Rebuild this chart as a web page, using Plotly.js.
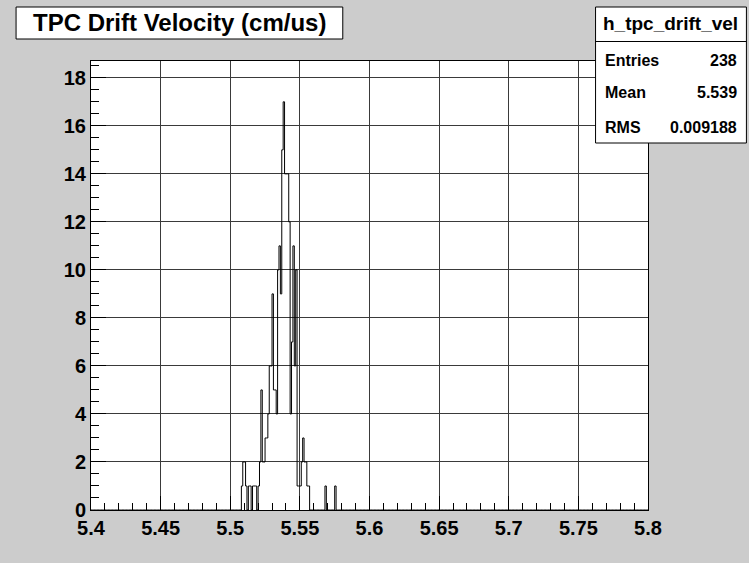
<!DOCTYPE html>
<html>
<head>
<meta charset="utf-8">
<script src="https://cdn.plot.ly/plotly-3.0.1.min.js"></script>
<style>
  html, body { margin: 0; padding: 0; background: #cccccc; }
  #chart { width: 749px; height: 563px; }
</style>
</head>
<body>
<div id="chart"></div>
<script>
// ---- data ----
const histName = "h_tpc_drift_vel";
const chartTitle = "TPC Drift Velocity (cm/us)";
const axisMin = 5.4;
const axisMax = 5.8;
const binWidth = 0.001;
const firstFilledBin = 5.508;
const binCounts = [
  1, 2, 2, 1, 0, 1, 1, 0, 1, 1, 1, 0, 1, 2, 5, 2, 2, 3, 3, 4,
  6, 6, 9, 5, 5, 4, 10, 11, 9, 15, 17, 14, 14, 14, 12, 4, 7, 11, 6, 10,
  1, 1, 1, 2, 3, 2, 2, 1, 1,
  0, 0, 0, 0, 0, 0, 0, 0, 0, 0, 0,
  1,
  0, 0, 0, 0, 0, 0,
  1
];
const statLabels = ["Entries", "Mean", "RMS"];
const statValues = ["238", "5.539", "0.009188"];
const xTickVals = [5.4, 5.45, 5.5, 5.55, 5.6, 5.65, 5.7, 5.75, 5.8];
const xTickText = ["5.4", "5.45", "5.5", "5.55", "5.6", "5.65", "5.7", "5.75", "5.8"];
const yTickVals = [0, 2, 4, 6, 8, 10, 12, 14, 16, 18];
const yTickText = ["0", "2", "4", "6", "8", "10", "12", "14", "16", "18"];
const yMax = 18.7;

// ---- build the step outline over the full axis range ----
const nBins = Math.round((axisMax - axisMin) / binWidth);
const edges = [];
const heights = [];
for (let i = 0; i <= nBins; i++) {
  const lo = axisMin + i * binWidth;
  edges.push(lo);
  const k = Math.round((lo - firstFilledBin) / binWidth);
  const v = (i < nBins && k >= 0 && k < binCounts.length) ? binCounts[k] : 0;
  heights.push(i < nBins ? v : heights[heights.length - 1]);
}

// ---- layout geometry (pixels -> paper) ----
const W = 749, H = 563;
const L = 91, R = 648.5, T = 61, B = 510;
const px = x => (x - L) / (R - L);
const py = y => (B - y) / (B - T);

const FONT = "Liberation Sans, Arial, Helvetica, sans-serif";

const trace = {
  type: "scatter",
  mode: "lines",
  x: edges,
  y: heights,
  line: { shape: "hv", color: "#000000", width: 1 },
  hoverinfo: "skip",
  showlegend: false
};

const shapes = [
  // title box
  { type: "rect", xref: "paper", yref: "paper", x0: px(16), x1: px(343), y0: py(39), y1: py(7),
    fillcolor: "#ffffff", line: { color: "#000000", width: 1 }, layer: "above" },
  // stats box
  { type: "rect", xref: "paper", yref: "paper", x0: px(596), x1: px(747), y0: py(143), y1: py(7),
    fillcolor: "#ffffff", line: { color: "#000000", width: 1 }, layer: "above" },
  { type: "line", xref: "paper", yref: "paper", x0: px(596), x1: px(747), y0: py(41.5), y1: py(41.5),
    line: { color: "#000000", width: 1 }, layer: "above" }
];

const annotations = [
  { xref: "paper", yref: "paper", x: px(179.5), y: py(23), text: chartTitle, showarrow: false,
    xanchor: "center", yanchor: "middle", font: { family: FONT, size: 24, color: "#000", weight: 700 } },
  { xref: "paper", yref: "paper", x: px(671.5), y: py(24), text: histName, showarrow: false,
    xanchor: "center", yanchor: "middle", font: { family: FONT, size: 19, color: "#000", weight: 700 } }
];
const rowY = [60, 92, 127];
statLabels.forEach((lab, i) => {
  annotations.push({ xref: "paper", yref: "paper", x: px(603), y: py(rowY[i]), text: lab, showarrow: false,
    xanchor: "left", yanchor: "middle", font: { family: FONT, size: 16, color: "#000", weight: 700 } });
  annotations.push({ xref: "paper", yref: "paper", x: px(740), y: py(rowY[i]), text: statValues[i], showarrow: false,
    xanchor: "right", yanchor: "middle", font: { family: FONT, size: 16, color: "#000", weight: 700 } });
});

const layout = {
  width: W, height: H,
  margin: { l: L, r: W - R, t: T, b: H - B, pad: 0 },
  paper_bgcolor: "#cccccc",
  plot_bgcolor: "#ffffff",
  showlegend: false,
  xaxis: {
    range: [axisMin, axisMax],
    tickmode: "array", tickvals: xTickVals, ticktext: xTickText,
    ticks: "inside", ticklen: 14, tickcolor: "#000", tickwidth: 1,
    showgrid: true, gridcolor: "#3a3a3a", gridwidth: 1,
    zeroline: false,
    showline: true, linecolor: "#000", linewidth: 1, mirror: true,
    minor: { tickmode: "linear", tick0: axisMin, dtick: 0.01, ticks: "inside", ticklen: 7, tickcolor: "#000", showgrid: false },
    tickfont: { family: FONT, size: 20, color: "#000", weight: 700 },
    fixedrange: true
  },
  yaxis: {
    range: [0, yMax],
    tickmode: "array", tickvals: yTickVals, ticktext: yTickText,
    ticks: "inside", ticklen: 15, tickcolor: "#000", tickwidth: 1,
    showgrid: true, gridcolor: "#3a3a3a", gridwidth: 1,
    zeroline: false,
    showline: true, linecolor: "#000", linewidth: 1, mirror: true,
    minor: { tickmode: "linear", tick0: 0, dtick: 0.5, ticks: "inside", ticklen: 8, tickcolor: "#000", showgrid: false },
    tickfont: { family: FONT, size: 20, color: "#000", weight: 700 },
    fixedrange: true
  },
  shapes: shapes,
  annotations: annotations
};

Plotly.newPlot("chart", [trace], layout, { displayModeBar: false, staticPlot: true });
</script>
</body>
</html>
